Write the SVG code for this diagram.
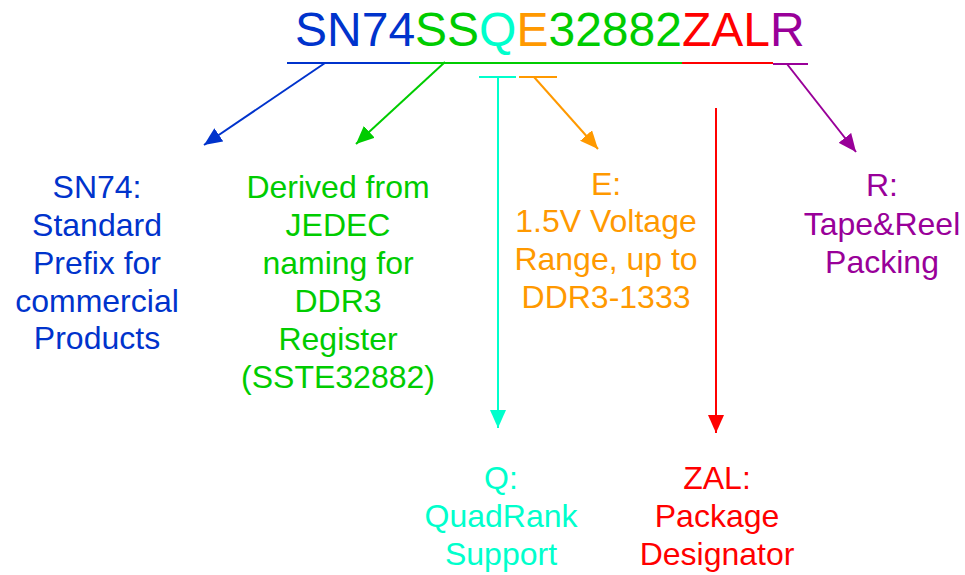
<svg xmlns="http://www.w3.org/2000/svg" width="965" height="575" viewBox="0 0 965 575">
<style>
text{font-family:"Liberation Sans",Arial,sans-serif;font-size:32px;text-anchor:middle}
.t{font-size:48px;text-anchor:start}
.ln{stroke-width:2;fill:none}
.b{fill:#0033CC}.g{fill:#00CC00}.c{fill:#00FFCC}.o{fill:#FF9900}.r{fill:#FF0000}.p{fill:#990099}
</style>
<defs>
<marker id="mb" markerUnits="userSpaceOnUse" markerWidth="18" markerHeight="16" refX="18" refY="8" orient="auto"><path d="M0,0L18,8L0,16z" fill="#0033CC"/></marker>
<marker id="mg" markerUnits="userSpaceOnUse" markerWidth="18" markerHeight="16" refX="18" refY="8" orient="auto"><path d="M0,0L18,8L0,16z" fill="#00CC00"/></marker>
<marker id="mc" markerUnits="userSpaceOnUse" markerWidth="18" markerHeight="16" refX="18" refY="8" orient="auto"><path d="M0,0L18,8L0,16z" fill="#00FFCC"/></marker>
<marker id="mo" markerUnits="userSpaceOnUse" markerWidth="18" markerHeight="16" refX="18" refY="8" orient="auto"><path d="M0,0L18,8L0,16z" fill="#FF9900"/></marker>
<marker id="mr" markerUnits="userSpaceOnUse" markerWidth="18" markerHeight="16" refX="18" refY="8" orient="auto"><path d="M0,0L18,8L0,16z" fill="#FF0000"/></marker>
<marker id="mp" markerUnits="userSpaceOnUse" markerWidth="18" markerHeight="16" refX="18" refY="8" orient="auto"><path d="M0,0L18,8L0,16z" fill="#990099"/></marker>
</defs>
<rect width="965" height="575" fill="#FFFFFF"/>
<g id="title">
<text class="t" x="295" y="46"><tspan class="b">SN74</tspan><tspan class="g">SS</tspan><tspan class="c">Q</tspan><tspan class="o">E</tspan><tspan class="g">32882</tspan><tspan class="r">ZAL</tspan><tspan class="p">R</tspan></text>
</g>
<g id="connectors">
<line class="ln" x1="287" y1="63" x2="410" y2="63" stroke="#0033CC"/>
<line class="ln" x1="410" y1="63" x2="682" y2="63" stroke="#00CC00"/>
<line class="ln" x1="682" y1="63" x2="773" y2="63" stroke="#FF0000"/>
<line class="ln" x1="773" y1="64" x2="808" y2="64" stroke="#990099"/>
<line class="ln" x1="325" y1="63" x2="204" y2="145" stroke="#0033CC" marker-end="url(#mb)"/>
<line class="ln" x1="445" y1="62" x2="356" y2="144" stroke="#00CC00" marker-end="url(#mg)"/>
<line class="ln" x1="479" y1="77" x2="516" y2="77" stroke="#00FFCC"/>
<line class="ln" x1="498" y1="77" x2="498" y2="428" stroke="#00FFCC" marker-end="url(#mc)"/>
<line class="ln" x1="519" y1="77" x2="557" y2="77" stroke="#FF9900"/>
<line class="ln" x1="534" y1="77" x2="598" y2="149" stroke="#FF9900" marker-end="url(#mo)"/>
<line class="ln" x1="716" y1="108" x2="716" y2="433" stroke="#FF0000" marker-end="url(#mr)"/>
<line class="ln" x1="787" y1="64" x2="856" y2="152" stroke="#990099" marker-end="url(#mp)"/>
</g>
<g id="sn74">
<text class="b" x="97" y="198">SN74:</text>
<text class="b" x="97" y="236">Standard</text>
<text class="b" x="97" y="274">Prefix for</text>
<text class="b" x="97" y="312">commercial</text>
<text class="b" x="97" y="349">Products</text>
</g>
<g id="ss">
<text class="g" x="338" y="198">Derived from</text>
<text class="g" x="338" y="236">JEDEC</text>
<text class="g" x="338" y="274">naming for</text>
<text class="g" x="338" y="312">DDR3</text>
<text class="g" x="338" y="350">Register</text>
<text class="g" x="338" y="388">(SSTE32882)</text>
</g>
<g id="e">
<text class="o" x="606" y="195">E:</text>
<text class="o" x="606" y="232">1.5V Voltage</text>
<text class="o" x="606" y="270">Range, up to</text>
<text class="o" x="606" y="308">DDR3-1333</text>
</g>
<g id="r">
<text class="p" x="882" y="196">R:</text>
<text class="p" x="882" y="235">Tape&amp;Reel</text>
<text class="p" x="882" y="273">Packing</text>
</g>
<g id="q">
<text class="c" x="501" y="489">Q:</text>
<text class="c" x="501" y="527">QuadRank</text>
<text class="c" x="501" y="565">Support</text>
</g>
<g id="zal">
<text class="r" x="717" y="489">ZAL:</text>
<text class="r" x="717" y="527">Package</text>
<text class="r" x="717" y="565">Designator</text>
</g>
</svg>
